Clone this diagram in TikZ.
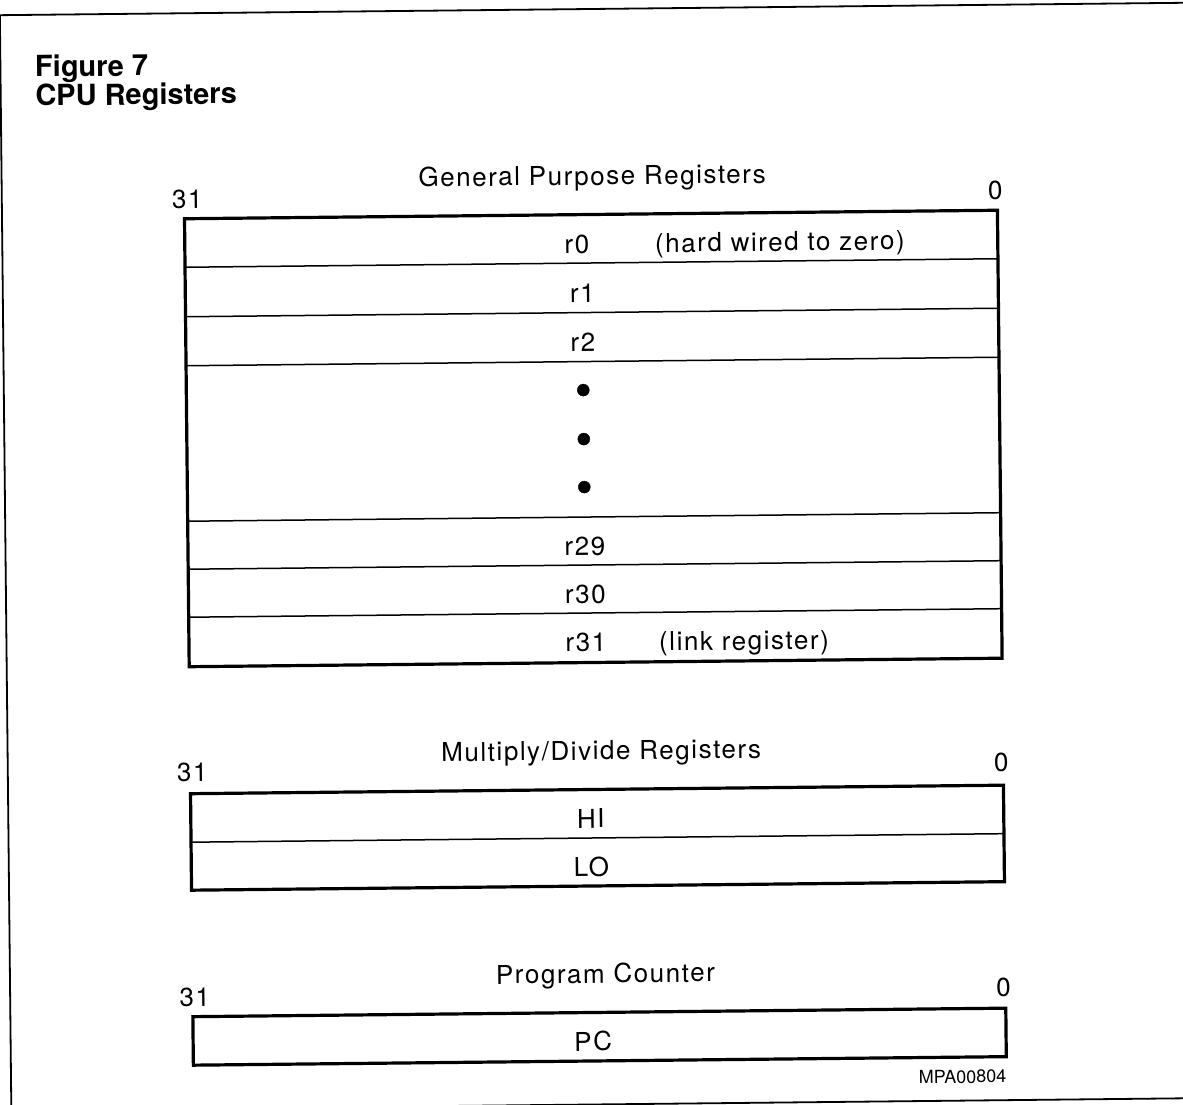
\documentclass[tikz,border=0pt]{standalone}
\usepackage{fontspec}
\setmainfont{TeX Gyre Heros}
\newfontfamily\regfont{TeX Gyre Heros}[LetterSpace=6]

\begin{document}
\begin{tikzpicture}
  [x=1pt,y=-1pt,
  box/.style={line width=3.2pt,line join=miter},
  sep/.style={line width=1.5pt},
  frame/.style={line width=1.8pt},
  lbl/.style={font=\regfont\fontsize{26}{30}\selectfont,inner sep=0pt,anchor=base},
  ttl/.style={font=\bfseries\fontsize{29}{33}\selectfont,inner sep=0pt,anchor=base west},
  note/.style={font=\fontsize{18}{20}\selectfont,inner sep=0pt,anchor=base east},
  dot/.style={circle,draw=black,fill=black,inner sep=0pt,minimum size=12pt}]
  \useasboundingbox (0,0) rectangle (1183,1105);
  \begin{scope}[rotate around={0.6:(591,552)},transform shape]
  \draw[frame] (1200,9) -- (5.5,9) -- (5.5,1104.5) -- (1200,1104.5);
  \node[ttl] (fig) at (40,71) {Figure 7};
  \node[ttl] (cpu) at (40,100) {CPU Registers};

  % general purpose registers
  \node[lbl] (gtitle) at (596,185) {General Purpose Registers};
  \node[lbl] (g31) at (191,204.5) {31};
  \node[lbl] (g0) at (999,204) {0};
  \foreach \y in {263,312.5,361.5,517,565,613}
    \draw[sep] (188,\y) -- (1001,\y);
  \draw[box] (188,214.5) rectangle (1001,662.5);
  \node[lbl] (r0) at (580,253) {r0};
  \node[lbl,anchor=base west] (r0note) at (658,253) {(hard wired to zero)};
  \node[lbl] (r1) at (585,302) {r1};
  \node[lbl] (r2) at (585,351) {r2};
  \node[dot] (d1) at (585,390) {};
  \node[dot] (d2) at (585,439) {};
  \node[dot] (d3) at (585,487) {};
  \node[lbl] (r29) at (585,555) {r29};
  \node[lbl] (r30) at (585,603) {r30};
  \node[lbl] (r31) at (585,651.5) {r31};
  \node[lbl,anchor=base west] (r31note) at (658,651.5) {(link register)};

  % multiply/divide registers
  \node[lbl] (mtitle) at (599,760) {Multiply/Divide Registers};
  \node[lbl] (m31) at (190,777) {31};
  \node[lbl] (m0) at (999,776) {0};
  \draw[sep] (188,838) -- (1001,838);
  \draw[box] (188,789.5) rectangle (1001,886);
  \node[lbl] (hi) at (588,828) {HI};
  \node[lbl] (lo) at (588,876) {LO};

  % program counter
  \node[lbl] (ptitle) at (601,983) {Program Counter};
  \node[lbl] (p31) at (190,1002) {31};
  \node[lbl] (p0) at (999,1001) {0};
  \draw[box] (188,1012.5) rectangle (1001,1061);
  \node[lbl] (pc) at (588,1051) {PC};

  \node[note] (code) at (1001,1087) {MPA00804};
  \end{scope}
\end{tikzpicture}
\end{document}
